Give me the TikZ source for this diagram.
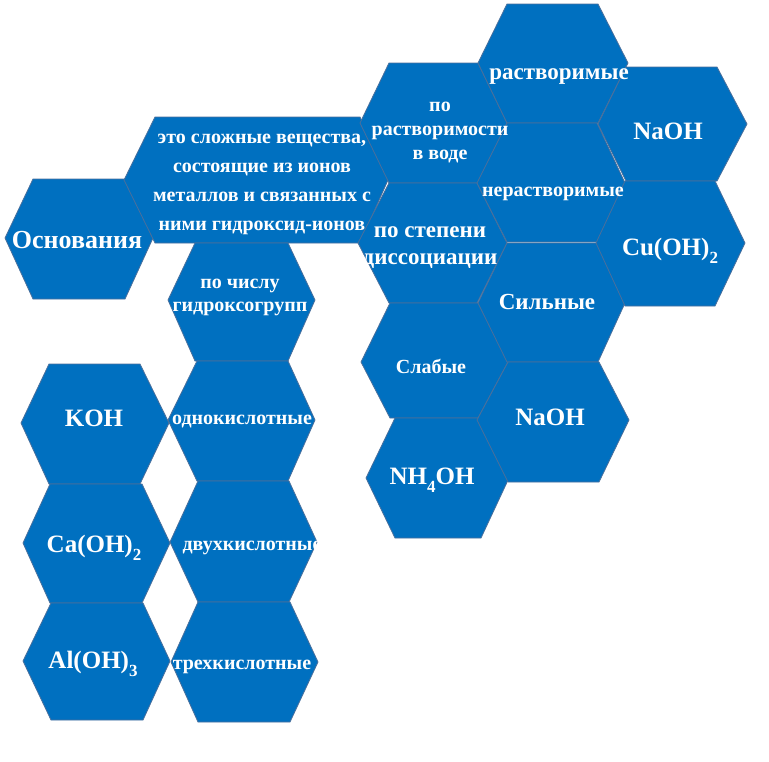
\documentclass[tikz,border=0pt]{standalone}
\usepackage{fontspec}
\setmainfont{Liberation Serif}
\definecolor{hexfill}{HTML}{0070C0}
\definecolor{hexline}{HTML}{4A6F9C}
% L A B R T M Bo
\newcommand{\hexcell}[7]{\filldraw[hexcell] (#1,#6)--(#2,#5)--(#3,#5)--(#4,#6)--(#3,#7)--(#2,#7)--cycle;}
\newcommand{\fsz}[2]{\fontsize{#1}{#2}\selectfont\bfseries}
\newcommand{\lowr}[1]{\raisebox{-0.32em}{\fontsize{17}{17}\selectfont\bfseries #1}}
\begin{document}
\begin{tikzpicture}[x=1pt,y=-1pt,
  hexcell/.style={fill=hexfill,draw=hexline,line width=0.8pt,line join=miter},
  lbl/.style={text=white,align=center,inner sep=0pt}]
\useasboundingbox (0,0) rectangle (769,761);
% hexagons
\hexcell{5}{33}{125}{153}{179}{238}{299}
\hexcell{124}{155}{360}{388}{117}{180}{243}
\hexcell{168}{195}{288}{315}{243}{300}{361}
\hexcell{168}{197}{288}{315}{361}{420}{481}
\hexcell{170}{198}{289}{317}{481}{542}{602}
\hexcell{171}{198}{290}{318}{602}{662}{722}
\hexcell{21}{49}{140}{169}{364}{423}{484}
\hexcell{23}{50}{142}{170}{484}{543}{603}
\hexcell{23}{51}{143}{170}{603}{661}{720}
\hexcell{360}{389}{478}{507}{63}{123}{183}
\hexcell{358}{389}{477}{507}{183}{243}{303}
\hexcell{361}{390}{478}{508}{303}{362}{418}
\hexcell{366}{395}{481}{509}{418}{478}{538}
\hexcell{478}{507}{598}{628}{4}{63}{123}
\hexcell{477}{507}{597}{625}{123}{183}{242}
\hexcell{478}{507}{598}{625}{243}{303}{362}
\hexcell{477}{508}{599}{629}{362}{420}{482}
\hexcell{598}{626}{717}{747}{67}{124}{181}
\hexcell{596}{625}{715}{745}{181}{243}{306}
% labels
\node[lbl,font=\fsz{26}{30}] (osn) at (77,240) {Основания};
\node[lbl,font=\fsz{20}{29}] (def) at (262,184) {это сложные вещества,\\состоящие из ионов\\металлов и связанных с\\ними гидроксид-ионов};
\node[lbl,font=\fsz{20}{23}] (chislu) at (240,297) {по числу\\гидроксогрупп};
\node[lbl,font=\fsz{20}{24}] (porastv) at (440,133) {по\\растворимости\\в воде};
\node[lbl,font=\fsz{23}{27}] (rastvorim) at (559,77) {растворимые};
\node[lbl,font=\fsz{25}{30}] (naohA) at (668,131) {NaOH};
\node[lbl,font=\fsz{20}{24}] (nerastv) at (553,194) {нерастворимые};
\node[lbl,font=\fsz{25}{30}] (cuoh) at (670,251) {Cu(OH)\lowr{2}};
\node[lbl,font=\fsz{23}{27}] (stepeni) at (430,248) {по степени\\диссоциации};
\node[lbl,font=\fsz{23}{27}] (silnye) at (547,302) {Сильные};
\node[lbl,font=\fsz{20}{24}] (slabye) at (431,366) {Слабые};
\node[lbl,font=\fsz{25}{30}] (naohB) at (550,417) {NaOH};
\node[lbl,font=\fsz{25}{30}] (nhoh) at (432,480) {NH\lowr{4}OH};
\node[lbl,font=\fsz{25}{30}] (koh) at (94,418) {KOH};
\node[lbl,font=\fsz{20}{24}] (odno) at (242,422) {однокислотные};
\node[lbl,font=\fsz{25}{30}] (caoh) at (94,548) {Ca(OH)\lowr{2}};
\node[lbl,font=\fsz{20}{24}] (dvuh) at (252,548) {двухкислотные};
\node[lbl,font=\fsz{25}{30}] (aloh) at (93,664) {Al(OH)\lowr{3}};
\node[lbl,font=\fsz{20}{24}] (treh) at (242,667) {трехкислотные};
\end{tikzpicture}
\end{document}
